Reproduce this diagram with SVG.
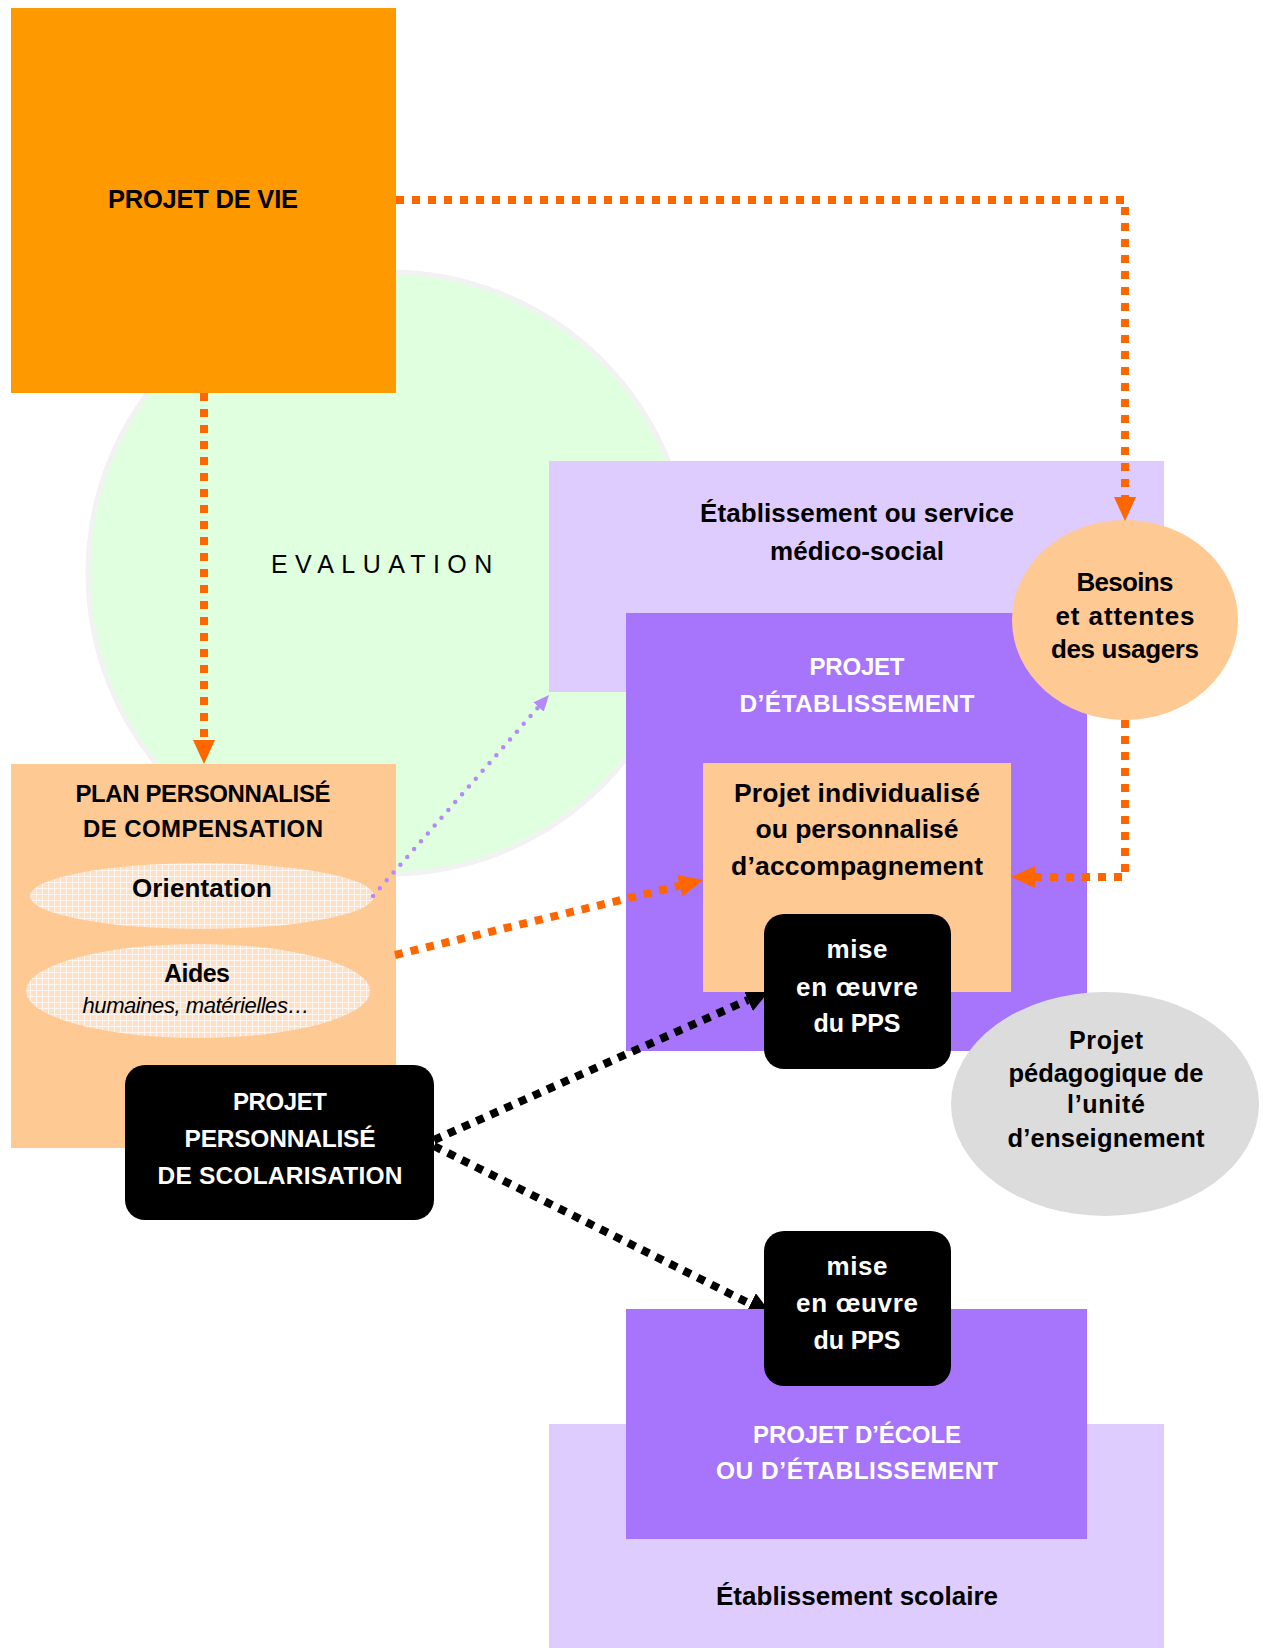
<svg xmlns="http://www.w3.org/2000/svg" width="1263" height="1648" viewBox="0 0 1263 1648">
<defs>
<style>
.t{font-family:"Liberation Sans",Arial,sans-serif;font-weight:bold;text-anchor:middle;fill:#000}
.w{fill:#fff}
.it{font-family:"Liberation Sans",Arial,sans-serif;font-style:italic;text-anchor:middle;fill:#000}
.ev{font-family:"Liberation Sans",Arial,sans-serif;fill:#000}
.lav{fill:#dfccfe}
.pur{fill:#a675fc}
.peach{fill:#ffc994}
.blk{fill:#000}
.co{fill:none;stroke:#ff6600;stroke-width:8;stroke-dasharray:8 8}
.ck{fill:none;stroke:#000;stroke-width:8;stroke-dasharray:8 7.5}
.cp{fill:none;stroke:#b48af8;stroke-width:4.5;stroke-linecap:round;stroke-dasharray:0 10.4}
</style>
<pattern id="grid" width="6" height="6" patternUnits="userSpaceOnUse">
<rect width="6" height="6" fill="#fde0c6"/>
<path d="M0,0.5H6M0.5,0V6" stroke="#fff" stroke-width="1" opacity="0.75"/>
</pattern>
<marker id="ao" markerUnits="userSpaceOnUse" markerWidth="24" markerHeight="22" refX="0" refY="11" orient="auto"><path d="M0,0 L24,11 L0,22 z" fill="#ff6600"/></marker>
<marker id="ak" markerUnits="userSpaceOnUse" markerWidth="24" markerHeight="24" refX="0" refY="12" orient="auto"><path d="M0,0 L24,12 L0,24 z" fill="#000"/></marker>
<marker id="ap" markerUnits="userSpaceOnUse" markerWidth="16" markerHeight="14" refX="0" refY="7" orient="auto"><path d="M0,0 L16,7 L0,14 z" fill="#b48af8"/></marker>
</defs>
<rect width="1263" height="1648" fill="#fff"/>

<g id="evaluation">
<circle cx="389" cy="573" r="301" fill="#dfffdf" stroke="#f2f2f2" stroke-width="5"/>
<text class="ev" x="271" y="573" font-size="25" letter-spacing="7.4">EVALUATION</text>
</g>

<g id="etablissement-medico-social">
<rect class="lav" x="549" y="461" width="615" height="231"/>
<text class="t" x="857" y="522" font-size="26" textLength="314">Établissement ou service</text>
<text class="t" x="857" y="560" font-size="26" textLength="174">médico-social</text>
</g>

<g id="projet-etablissement">
<rect class="pur" x="626" y="613" width="461" height="438"/>
<text class="t w" x="857" y="675" font-size="24" textLength="95">PROJET</text>
<text class="t w" x="857" y="712" font-size="24.5" textLength="235">D’ÉTABLISSEMENT</text>
</g>

<g id="etablissement-scolaire">
<rect class="lav" x="549" y="1424" width="615" height="224"/>
<text class="t" x="857" y="1605" font-size="26" textLength="282">Établissement scolaire</text>
</g>

<g id="plan-compensation">
<rect class="peach" x="11" y="764" width="385" height="384"/>
<text class="t" x="203" y="802" font-size="24" textLength="255">PLAN PERSONNALISÉ</text>
<text class="t" x="203" y="837" font-size="24" textLength="240">DE COMPENSATION</text>
<g id="orientation">
<ellipse cx="202" cy="896" rx="172" ry="33" fill="url(#grid)"/>
<text class="t" x="202" y="897" font-size="26" textLength="140">Orientation</text>
</g>
<g id="aides">
<ellipse cx="198" cy="991" rx="172" ry="47" fill="url(#grid)"/>
<text class="t" x="197" y="982" font-size="25" textLength="66">Aides</text>
<text class="it" x="196" y="1013" font-size="22" textLength="227">humaines, matérielles…</text>
</g>
</g>

<g id="projet-de-vie">
<rect x="11" y="8" width="385" height="385" fill="#ff9900"/>
<text class="t" x="203" y="208" font-size="25.5" textLength="190">PROJET DE VIE</text>
</g>

<g id="besoins">
<ellipse cx="1125" cy="620" rx="113" ry="100" fill="#ffc994"/>
<text class="t" x="1125" y="591" font-size="26" textLength="97">Besoins</text>
<text class="t" x="1125" y="625" font-size="26" textLength="139">et attentes</text>
<text class="t" x="1125" y="658" font-size="26" textLength="148">des usagers</text>
</g>

<g id="projet-pedagogique">
<ellipse cx="1105" cy="1104" rx="154" ry="112" fill="#dcdcdc"/>
<text class="t" x="1106" y="1049" font-size="25" textLength="74">Projet</text>
<text class="t" x="1106" y="1082" font-size="25.5" textLength="195">pédagogique de</text>
<text class="t" x="1106" y="1113" font-size="25" textLength="78">l’unité</text>
<text class="t" x="1106" y="1147" font-size="25.5" textLength="197">d’enseignement</text>
</g>

<g id="connectors">
<path class="co" d="M396,200 H1125 V497" marker-end="url(#ao)"/>
<path class="co" d="M204,393 V740" marker-end="url(#ao)"/>
<path class="co" d="M1125,720 V877 H1035" marker-end="url(#ao)"/>
<path class="co" d="M395,955 L679.7,885.7" marker-end="url(#ao)"/>
<path class="cp" d="M373,896 L538.5,707" marker-end="url(#ap)"/>
<path class="ck" d="M434,1140 L748,1000" marker-end="url(#ak)"/>
<path class="ck" d="M434,1146 L750.5,1304" marker-end="url(#ak)"/>
</g>

<g id="projet-ecole">
<rect class="pur" x="626" y="1309" width="461" height="230"/>
<text class="t w" x="857" y="1443" font-size="24" textLength="208">PROJET D’ÉCOLE</text>
<text class="t w" x="857" y="1479" font-size="24.5" textLength="282">OU D’ÉTABLISSEMENT</text>
</g>

<g id="projet-individualise">
<rect class="peach" x="703" y="763" width="308" height="229"/>
<text class="t" x="857" y="802" font-size="26.5" textLength="246">Projet individualisé</text>
<text class="t" x="857" y="838" font-size="26.5" textLength="203">ou personnalisé</text>
<text class="t" x="857" y="875" font-size="26.5" textLength="252">d’accompagnement</text>
</g>

<g id="mise-en-oeuvre-1">
<rect class="blk" x="764" y="914" width="187" height="155" rx="20"/>
<text class="t w" x="857" y="958" font-size="26" textLength="61">mise</text>
<text class="t w" x="857" y="996" font-size="26" textLength="122">en œuvre</text>
<text class="t w" x="857" y="1032" font-size="25" textLength="87">du PPS</text>
</g>

<g id="mise-en-oeuvre-2">
<rect class="blk" x="764" y="1231" width="187" height="155" rx="20"/>
<text class="t w" x="857" y="1275" font-size="26" textLength="61">mise</text>
<text class="t w" x="857" y="1312" font-size="26" textLength="122">en œuvre</text>
<text class="t w" x="857" y="1349" font-size="25" textLength="87">du PPS</text>
</g>

<g id="pps">
<rect class="blk" x="125" y="1065" width="309" height="155" rx="20"/>
<text class="t w" x="280" y="1110" font-size="24" textLength="94">PROJET</text>
<text class="t w" x="280" y="1147" font-size="24.5" textLength="191">PERSONNALISÉ</text>
<text class="t w" x="280" y="1184" font-size="24.5" textLength="245">DE SCOLARISATION</text>
</g>
</svg>
